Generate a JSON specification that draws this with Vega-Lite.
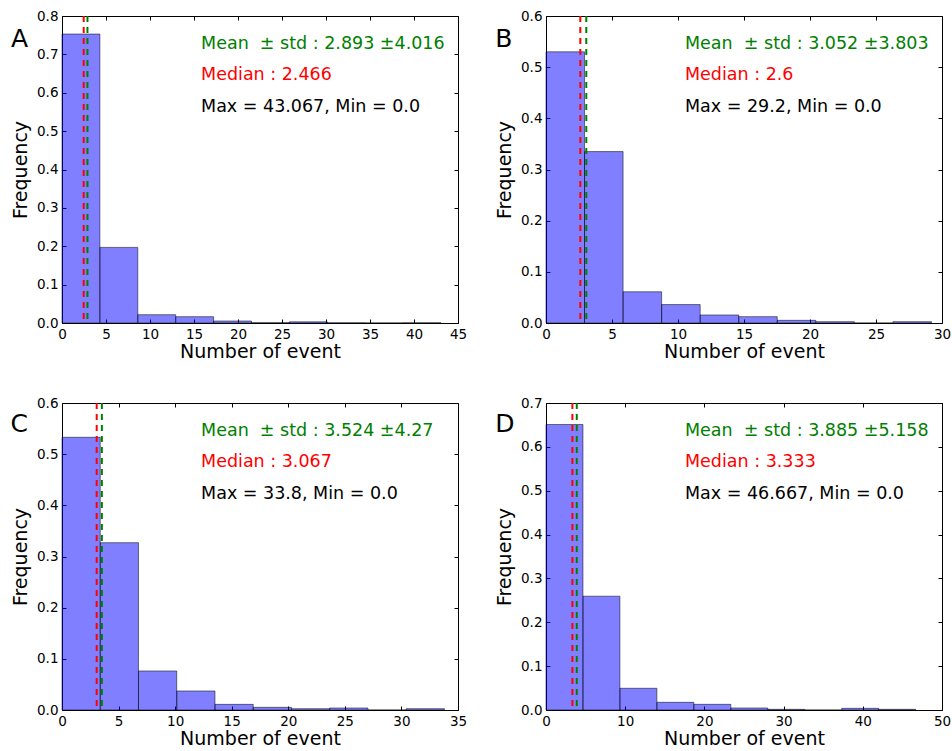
{
  "$schema": "https://vega.github.io/schema/vega-lite/v6.json",
  "background": "white",
  "padding": {"left": 10, "top": 8, "right": 5, "bottom": 5},
  "config": {
    "font": "DejaVu Sans",
    "view": {"stroke": "black", "strokeWidth": 1},
    "axis": {
      "grid": false, "domain": false, "tickColor": "black", "tickSize": -4, "tickWidth": 1,
      "labelColor": "black", "titleColor": "black", "labelFontSize": 13.5, "titleFontSize": 19,
      "titleFontWeight": "normal", "labelFlush": false, "labelOverlap": false,
      "labelFont": "DejaVu Sans", "titleFont": "DejaVu Sans"
    },
    "axisX": {"labelPadding": 8, "titlePadding": 2},
    "axisY": {"labelPadding": 8, "titlePadding": 6},
    "text": {"font": "DejaVu Sans", "fontSize": 17.5, "align": "left", "baseline": "middle"}
  },
  "datasets": {
    "histA": [
      {"bin_start": 0, "bin_end": 4.307, "freq": 0.753},
      {"bin_start": 4.307, "bin_end": 8.613, "freq": 0.197},
      {"bin_start": 8.613, "bin_end": 12.92, "freq": 0.0217},
      {"bin_start": 12.92, "bin_end": 17.227, "freq": 0.0165},
      {"bin_start": 17.227, "bin_end": 21.534, "freq": 0.0052},
      {"bin_start": 21.534, "bin_end": 25.84, "freq": 0.0008},
      {"bin_start": 25.84, "bin_end": 30.147, "freq": 0.003},
      {"bin_start": 30.147, "bin_end": 34.454, "freq": 0.0004},
      {"bin_start": 34.454, "bin_end": 38.76, "freq": 0.0002},
      {"bin_start": 38.76, "bin_end": 43.067, "freq": 0.0004}
    ],
    "histB": [
      {"bin_start": 0, "bin_end": 2.92, "freq": 0.53},
      {"bin_start": 2.92, "bin_end": 5.84, "freq": 0.335},
      {"bin_start": 5.84, "bin_end": 8.76, "freq": 0.061},
      {"bin_start": 8.76, "bin_end": 11.68, "freq": 0.036},
      {"bin_start": 11.68, "bin_end": 14.6, "freq": 0.0157},
      {"bin_start": 14.6, "bin_end": 17.52, "freq": 0.0124},
      {"bin_start": 17.52, "bin_end": 20.44, "freq": 0.0052},
      {"bin_start": 20.44, "bin_end": 23.36, "freq": 0.0026},
      {"bin_start": 23.36, "bin_end": 26.28, "freq": 0},
      {"bin_start": 26.28, "bin_end": 29.2, "freq": 0.0026}
    ],
    "histC": [
      {"bin_start": 0, "bin_end": 3.38, "freq": 0.533},
      {"bin_start": 3.38, "bin_end": 6.76, "freq": 0.327},
      {"bin_start": 6.76, "bin_end": 10.14, "freq": 0.0763},
      {"bin_start": 10.14, "bin_end": 13.52, "freq": 0.0372},
      {"bin_start": 13.52, "bin_end": 16.9, "freq": 0.011},
      {"bin_start": 16.9, "bin_end": 20.28, "freq": 0.0052},
      {"bin_start": 20.28, "bin_end": 23.66, "freq": 0.0026},
      {"bin_start": 23.66, "bin_end": 27.04, "freq": 0.0039},
      {"bin_start": 27.04, "bin_end": 30.42, "freq": 0},
      {"bin_start": 30.42, "bin_end": 33.8, "freq": 0.0026}
    ],
    "histD": [
      {"bin_start": 0, "bin_end": 4.667, "freq": 0.651},
      {"bin_start": 4.667, "bin_end": 9.333, "freq": 0.2595},
      {"bin_start": 9.333, "bin_end": 14, "freq": 0.0495},
      {"bin_start": 14, "bin_end": 18.667, "freq": 0.0175},
      {"bin_start": 18.667, "bin_end": 23.333, "freq": 0.0129},
      {"bin_start": 23.333, "bin_end": 28, "freq": 0.0046},
      {"bin_start": 28, "bin_end": 32.667, "freq": 0.0015},
      {"bin_start": 32.667, "bin_end": 37.333, "freq": 0},
      {"bin_start": 37.333, "bin_end": 42, "freq": 0.0038},
      {"bin_start": 42, "bin_end": 46.667, "freq": 0.0015}
    ],
    "statsA": [{"stat": "median", "value": 2.466}, {"stat": "mean", "value": 2.893}],
    "statsB": [{"stat": "median", "value": 2.6}, {"stat": "mean", "value": 3.052}],
    "statsC": [{"stat": "median", "value": 3.067}, {"stat": "mean", "value": 3.524}],
    "statsD": [{"stat": "median", "value": 3.333}, {"stat": "mean", "value": 3.885}]
  },
  "columns": 2,
  "spacing": {"row": 33, "column": 26},
  "concat": [
    {
      "width": 396, "height": 307,
      "layer": [
        {"data": {"name": "histA"},
         "mark": {"type": "rect", "fill": "blue", "fillOpacity": 0.5, "stroke": "black", "strokeOpacity": 0.5, "strokeWidth": 1},
         "encoding": {
           "x": {"field": "bin_start", "type": "quantitative", "scale": {"domain": [0, 45], "nice": false, "zero": false},
                 "axis": {"orient": "bottom", "title": "Number of event", "values": [0,5,10,15,20,25,30,35,40,45], "format": "d"}},
           "x2": {"field": "bin_end"},
           "y": {"field": "freq", "type": "quantitative", "scale": {"domain": [0, 0.8], "nice": false},
                 "axis": {"orient": "left", "title": "Frequency", "values": [0,0.1,0.2,0.3,0.4,0.5,0.6,0.7,0.8], "format": ".1f"}},
           "y2": {"datum": 0}
         }},
        {"data": {"name": "statsA"},
         "mark": {"type": "rule", "strokeWidth": 2, "strokeDash": [6, 5]},
         "encoding": {
           "x": {"field": "value", "type": "quantitative", "axis": null},
           "color": {"field": "stat", "type": "nominal", "scale": {"domain": ["median", "mean"], "range": ["#ff0000", "#008000"]}, "legend": null}
         }},
        {"data": {"values": [{}]},
         "mark": {"type": "text", "text": "Mean \u00a0± std : 2.893 ±4.016", "color": "#008000"},
         "encoding": {
           "x": {"datum": 15.8, "type": "quantitative", "axis": {"orient": "top", "labels": false, "title": null, "values": [0,5,10,15,20,25,30,35,40,45]}},
           "y": {"datum": 0.727, "type": "quantitative", "axis": {"orient": "right", "labels": false, "title": null, "values": [0,0.1,0.2,0.3,0.4,0.5,0.6,0.7,0.8]}}
         }},
        {"data": {"values": [{}]},
         "mark": {"type": "text", "text": "Median : 2.466", "color": "#ff0000"},
         "encoding": {"x": {"datum": 15.8, "type": "quantitative", "axis": null}, "y": {"datum": 0.646, "type": "quantitative", "axis": null}}},
        {"data": {"values": [{}]},
         "mark": {"type": "text", "text": "Max = 43.067, Min = 0.0", "color": "black"},
         "encoding": {"x": {"datum": 15.8, "type": "quantitative", "axis": null}, "y": {"datum": 0.563, "type": "quantitative", "axis": null}}},
        {"data": {"values": [{}]},
         "mark": {"type": "text", "text": "A", "color": "black", "fontSize": 25},
         "encoding": {"x": {"datum": -5.8, "type": "quantitative", "axis": null}, "y": {"datum": 0.741, "type": "quantitative", "axis": null}}}
      ],
      "resolve": {"axis": {"x": "independent", "y": "independent"}}
    },
    {
      "width": 396, "height": 307,
      "layer": [
        {"data": {"name": "histB"},
         "mark": {"type": "rect", "fill": "blue", "fillOpacity": 0.5, "stroke": "black", "strokeOpacity": 0.5, "strokeWidth": 1},
         "encoding": {
           "x": {"field": "bin_start", "type": "quantitative", "scale": {"domain": [0, 30], "nice": false, "zero": false},
                 "axis": {"orient": "bottom", "title": "Number of event", "values": [0,5,10,15,20,25,30], "format": "d"}},
           "x2": {"field": "bin_end"},
           "y": {"field": "freq", "type": "quantitative", "scale": {"domain": [0, 0.6], "nice": false},
                 "axis": {"orient": "left", "title": "Frequency", "values": [0,0.1,0.2,0.3,0.4,0.5,0.6], "format": ".1f"}},
           "y2": {"datum": 0}
         }},
        {"data": {"name": "statsB"},
         "mark": {"type": "rule", "strokeWidth": 2, "strokeDash": [6, 5]},
         "encoding": {
           "x": {"field": "value", "type": "quantitative", "axis": null},
           "color": {"field": "stat", "type": "nominal", "scale": {"domain": ["median", "mean"], "range": ["#ff0000", "#008000"]}, "legend": null}
         }},
        {"data": {"values": [{}]},
         "mark": {"type": "text", "text": "Mean \u00a0± std : 3.052 ±3.803", "color": "#008000"},
         "encoding": {
           "x": {"datum": 10.53, "type": "quantitative", "axis": {"orient": "top", "labels": false, "title": null, "values": [0,5,10,15,20,25,30]}},
           "y": {"datum": 0.545, "type": "quantitative", "axis": {"orient": "right", "labels": false, "title": null, "values": [0,0.1,0.2,0.3,0.4,0.5,0.6]}}
         }},
        {"data": {"values": [{}]},
         "mark": {"type": "text", "text": "Median : 2.6", "color": "#ff0000"},
         "encoding": {"x": {"datum": 10.53, "type": "quantitative", "axis": null}, "y": {"datum": 0.485, "type": "quantitative", "axis": null}}},
        {"data": {"values": [{}]},
         "mark": {"type": "text", "text": "Max = 29.2, Min = 0.0", "color": "black"},
         "encoding": {"x": {"datum": 10.53, "type": "quantitative", "axis": null}, "y": {"datum": 0.422, "type": "quantitative", "axis": null}}},
        {"data": {"values": [{}]},
         "mark": {"type": "text", "text": "B", "color": "black", "fontSize": 25},
         "encoding": {"x": {"datum": -3.85, "type": "quantitative", "axis": null}, "y": {"datum": 0.556, "type": "quantitative", "axis": null}}}
      ],
      "resolve": {"axis": {"x": "independent", "y": "independent"}}
    },
    {
      "width": 396, "height": 307,
      "layer": [
        {"data": {"name": "histC"},
         "mark": {"type": "rect", "fill": "blue", "fillOpacity": 0.5, "stroke": "black", "strokeOpacity": 0.5, "strokeWidth": 1},
         "encoding": {
           "x": {"field": "bin_start", "type": "quantitative", "scale": {"domain": [0, 35], "nice": false, "zero": false},
                 "axis": {"orient": "bottom", "title": "Number of event", "values": [0,5,10,15,20,25,30,35], "format": "d"}},
           "x2": {"field": "bin_end"},
           "y": {"field": "freq", "type": "quantitative", "scale": {"domain": [0, 0.6], "nice": false},
                 "axis": {"orient": "left", "title": "Frequency", "values": [0,0.1,0.2,0.3,0.4,0.5,0.6], "format": ".1f"}},
           "y2": {"datum": 0}
         }},
        {"data": {"name": "statsC"},
         "mark": {"type": "rule", "strokeWidth": 2, "strokeDash": [6, 5]},
         "encoding": {
           "x": {"field": "value", "type": "quantitative", "axis": null},
           "color": {"field": "stat", "type": "nominal", "scale": {"domain": ["median", "mean"], "range": ["#ff0000", "#008000"]}, "legend": null}
         }},
        {"data": {"values": [{}]},
         "mark": {"type": "text", "text": "Mean \u00a0± std : 3.524 ±4.27", "color": "#008000"},
         "encoding": {
           "x": {"datum": 12.29, "type": "quantitative", "axis": {"orient": "top", "labels": false, "title": null, "values": [0,5,10,15,20,25,30,35]}},
           "y": {"datum": 0.545, "type": "quantitative", "axis": {"orient": "right", "labels": false, "title": null, "values": [0,0.1,0.2,0.3,0.4,0.5,0.6]}}
         }},
        {"data": {"values": [{}]},
         "mark": {"type": "text", "text": "Median : 3.067", "color": "#ff0000"},
         "encoding": {"x": {"datum": 12.29, "type": "quantitative", "axis": null}, "y": {"datum": 0.485, "type": "quantitative", "axis": null}}},
        {"data": {"values": [{}]},
         "mark": {"type": "text", "text": "Max = 33.8, Min = 0.0", "color": "black"},
         "encoding": {"x": {"datum": 12.29, "type": "quantitative", "axis": null}, "y": {"datum": 0.422, "type": "quantitative", "axis": null}}},
        {"data": {"values": [{}]},
         "mark": {"type": "text", "text": "C", "color": "black", "fontSize": 25},
         "encoding": {"x": {"datum": -4.55, "type": "quantitative", "axis": null}, "y": {"datum": 0.559, "type": "quantitative", "axis": null}}}
      ],
      "resolve": {"axis": {"x": "independent", "y": "independent"}}
    },
    {
      "width": 396, "height": 307,
      "layer": [
        {"data": {"name": "histD"},
         "mark": {"type": "rect", "fill": "blue", "fillOpacity": 0.5, "stroke": "black", "strokeOpacity": 0.5, "strokeWidth": 1},
         "encoding": {
           "x": {"field": "bin_start", "type": "quantitative", "scale": {"domain": [0, 50], "nice": false, "zero": false},
                 "axis": {"orient": "bottom", "title": "Number of event", "values": [0,10,20,30,40,50], "format": "d"}},
           "x2": {"field": "bin_end"},
           "y": {"field": "freq", "type": "quantitative", "scale": {"domain": [0, 0.7], "nice": false},
                 "axis": {"orient": "left", "title": "Frequency", "values": [0,0.1,0.2,0.3,0.4,0.5,0.6,0.7], "format": ".1f"}},
           "y2": {"datum": 0}
         }},
        {"data": {"name": "statsD"},
         "mark": {"type": "rule", "strokeWidth": 2, "strokeDash": [6, 5]},
         "encoding": {
           "x": {"field": "value", "type": "quantitative", "axis": null},
           "color": {"field": "stat", "type": "nominal", "scale": {"domain": ["median", "mean"], "range": ["#ff0000", "#008000"]}, "legend": null}
         }},
        {"data": {"values": [{}]},
         "mark": {"type": "text", "text": "Mean \u00a0± std : 3.885 ±5.158", "color": "#008000"},
         "encoding": {
           "x": {"datum": 17.55, "type": "quantitative", "axis": {"orient": "top", "labels": false, "title": null, "values": [0,10,20,30,40,50]}},
           "y": {"datum": 0.636, "type": "quantitative", "axis": {"orient": "right", "labels": false, "title": null, "values": [0,0.1,0.2,0.3,0.4,0.5,0.6,0.7]}}
         }},
        {"data": {"values": [{}]},
         "mark": {"type": "text", "text": "Median : 3.333", "color": "#ff0000"},
         "encoding": {"x": {"datum": 17.55, "type": "quantitative", "axis": null}, "y": {"datum": 0.566, "type": "quantitative", "axis": null}}},
        {"data": {"values": [{}]},
         "mark": {"type": "text", "text": "Max = 46.667, Min = 0.0", "color": "black"},
         "encoding": {"x": {"datum": 17.55, "type": "quantitative", "axis": null}, "y": {"datum": 0.493, "type": "quantitative", "axis": null}}},
        {"data": {"values": [{}]},
         "mark": {"type": "text", "text": "D", "color": "black", "fontSize": 25},
         "encoding": {"x": {"datum": -6.4, "type": "quantitative", "axis": null}, "y": {"datum": 0.652, "type": "quantitative", "axis": null}}}
      ],
      "resolve": {"axis": {"x": "independent", "y": "independent"}}
    }
  ]
}
